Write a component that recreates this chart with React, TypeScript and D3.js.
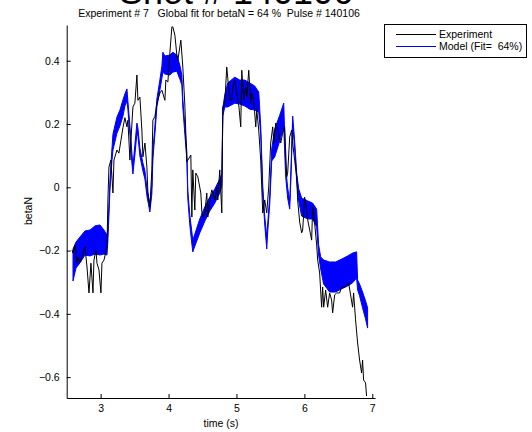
import React, { useEffect, useRef } from 'react';
import * as d3 from 'd3';

// experiment trace (time in s, betaN)
const expTime = [
  2.578, 2.593, 2.622, 2.651, 2.666, 2.696, 2.725, 2.769, 2.799, 2.828, 2.857, 2.887, 2.901, 2.931, 2.946, 2.975,
  3.004, 3.019, 3.049, 3.093, 3.107, 3.122, 3.151, 3.181, 3.196, 3.240, 3.269, 3.299, 3.328, 3.357, 3.387, 3.401,
  3.431, 3.446, 3.475, 3.504, 3.534, 3.549, 3.578, 3.607, 3.622, 3.652, 3.681, 3.696, 3.725, 3.754, 3.769, 3.799,
  3.828, 3.872, 3.902, 3.946, 3.960, 3.990, 4.019, 4.049, 4.063, 4.093, 4.122, 4.137, 4.181, 4.210, 4.240, 4.269,
  4.284, 4.328, 4.343, 4.357, 4.387, 4.401, 4.431, 4.475, 4.490, 4.504, 4.534, 4.563, 4.578, 4.607, 4.637, 4.652,
  4.681, 4.710, 4.725, 4.754, 4.784, 4.799, 4.828, 4.857, 4.872, 4.901, 4.931, 4.946, 4.975, 5.004, 5.034, 5.063,
  5.078, 5.107, 5.137, 5.151, 5.181, 5.210, 5.225, 5.254, 5.284, 5.299, 5.328, 5.357, 5.387, 5.416, 5.446, 5.475,
  5.504, 5.534, 5.549, 5.578, 5.607, 5.652, 5.681, 5.710, 5.740, 5.754, 5.784, 5.813, 5.828, 5.857, 5.887, 5.901,
  5.931, 5.960, 5.975, 6.004, 6.034, 6.049, 6.078, 6.107, 6.122, 6.137, 6.181, 6.196, 6.225, 6.254, 6.269, 6.284,
  6.313, 6.343, 6.372, 6.401, 6.416, 6.446, 6.475, 6.519, 6.549, 6.593, 6.652, 6.710, 6.725, 6.754, 6.784, 6.813,
  6.843, 6.857, 6.872, 6.901, 6.916,
];
const expBeta = [
  -0.198, -0.208, -0.182, -0.240, -0.220, -0.236, -0.223, -0.189, -0.252, -0.334, -0.240, -0.334, -0.230, -0.198, -0.240, -0.261,
  -0.334, -0.240, -0.230, -0.189, -0.040, 0.064, 0.086, -0.018, 0.086, 0.118, 0.108, 0.149, 0.188, 0.220, 0.191, 0.212,
  0.086, 0.149, 0.254, 0.266, 0.355, 0.275, 0.285, 0.181, 0.096, 0.140, 0.064, -0.018, -0.062, 0.055, 0.212, 0.224,
  0.266, 0.298, 0.307, 0.275, 0.339, 0.333, 0.424, 0.507, 0.507, 0.481, 0.418, 0.402, 0.465, 0.380, 0.260, 0.080,
  0.086, 0.102, -0.094, 0.055, -0.072, 0.045, 0.033, -0.018, -0.078, -0.094, -0.081, -0.018, -0.094, -0.040, -0.008, -0.018,
  -0.040, 0.001, -0.040, 0.055, -0.081, 0.254, 0.266, 0.380, 0.345, 0.276, 0.276, 0.317, 0.339, 0.298, 0.260, 0.191,
  0.370, 0.276, 0.317, 0.285, 0.370, 0.266, 0.298, 0.276, 0.191, 0.244, 0.181, 0.086, -0.081, -0.040, -0.081, 0.001,
  0.140, 0.191, 0.140, 0.203, 0.181, 0.140, 0.172, 0.191, 0.033, 0.045, 0.159, 0.181, 0.140, 0.086, 0.033, -0.040,
  -0.110, -0.144, -0.135, -0.031, -0.072, -0.103, -0.135, -0.167, -0.062, -0.081, -0.182, -0.230, -0.271, -0.379, -0.315, -0.379,
  -0.325, -0.379, -0.334, -0.356, -0.397, -0.340, -0.334, -0.334, -0.315, -0.315, -0.302, -0.379, -0.334, -0.419, -0.492, -0.546,
  -0.587, -0.546, -0.609, -0.618, -0.660,
];

// model trace: fast oscillation shown as its lower / upper envelope
const modelTime = [
  2.593, 2.637, 2.696, 2.769, 2.843, 2.916, 2.990, 3.049, 3.093, 3.107, 3.137, 3.166, 3.181, 3.240, 3.284, 3.328,
  3.357, 3.387, 3.401, 3.431, 3.460, 3.475, 3.504, 3.534, 3.549, 3.578, 3.622, 3.652, 3.681, 3.725, 3.754, 3.769,
  3.799, 3.828, 3.872, 3.902, 3.916, 3.946, 4.019, 4.063, 4.122, 4.166, 4.196, 4.210, 4.240, 4.269, 4.284, 4.313,
  4.343, 4.357, 4.387, 4.460, 4.534, 4.607, 4.681, 4.754, 4.784, 4.799, 4.828, 4.872, 4.975, 5.049, 5.122, 5.196,
  5.269, 5.328, 5.357, 5.387, 5.416, 5.446, 5.460, 5.490, 5.519, 5.563, 5.637, 5.696, 5.725, 5.754, 5.784, 5.799,
  5.828, 5.857, 5.887, 5.916, 5.960, 6.049, 6.122, 6.181, 6.210, 6.240, 6.284, 6.372, 6.460, 6.549, 6.637, 6.710,
  6.769, 6.784, 6.813, 6.857, 6.901, 6.931,
];
const modelLow = [
  -0.296, -0.255, -0.239, -0.214, -0.217, -0.211, -0.214, -0.211, -0.214, -0.167, -0.009, 0.083, 0.118, 0.171, 0.194, 0.225,
  0.257, 0.273, 0.247, 0.168, 0.077, 0.042, 0.102, 0.171, 0.162, 0.099, 0.052, 0.026, -0.027, -0.078, -0.021, 0.089,
  0.168, 0.254, 0.307, 0.345, 0.364, 0.358, 0.355, 0.364, 0.367, 0.342, 0.323, 0.254, 0.168, 0.089, -0.037, -0.119,
  -0.179, -0.204, -0.186, -0.144, -0.107, -0.075, -0.050, -0.018, 0.004, 0.225, 0.254, 0.254, 0.266, 0.263, 0.257, 0.247,
  0.244, 0.238, 0.168, -0.021, -0.116, -0.195, -0.141, -0.053, 0.083, 0.096, 0.146, 0.191, 0.033, -0.034, -0.069, 0.010,
  0.200, 0.121, 0.020, -0.043, -0.091, -0.100, -0.100, -0.126, -0.214, -0.258, -0.306, -0.331, -0.331, -0.321, -0.312, -0.302,
  -0.287, -0.324, -0.343, -0.381, -0.416, -0.445,
];
const modelHigh = [
  -0.195, -0.173, -0.157, -0.138, -0.135, -0.122, -0.119, -0.135, -0.151, -0.135, 0.023, 0.121, 0.168, 0.222, 0.244, 0.276,
  0.295, 0.311, 0.273, 0.194, 0.108, 0.067, 0.134, 0.203, 0.187, 0.124, 0.077, 0.052, -0.002, -0.053, 0.004, 0.115,
  0.194, 0.279, 0.339, 0.383, 0.427, 0.415, 0.418, 0.427, 0.418, 0.386, 0.355, 0.279, 0.194, 0.115, -0.012, -0.088,
  -0.141, -0.167, -0.148, -0.100, -0.062, -0.031, -0.005, 0.026, 0.042, 0.251, 0.292, 0.330, 0.348, 0.339, 0.339, 0.330,
  0.320, 0.301, 0.194, 0.004, -0.091, -0.157, -0.116, -0.027, 0.121, 0.184, 0.228, 0.266, 0.064, -0.002, -0.043, 0.036,
  0.225, 0.146, 0.045, -0.005, -0.034, -0.043, -0.050, -0.069, -0.182, -0.220, -0.230, -0.236, -0.236, -0.227, -0.217, -0.208,
  -0.204, -0.293, -0.306, -0.331, -0.359, -0.381,
];

const xTicks = [3, 4, 5, 6, 7];
const yTicks = [-0.6, -0.4, -0.2, 0, 0.2, 0.4];

const W = 532;
const H = 432;
const FONT = '"Liberation Sans", Arial, Helvetica, sans-serif';

export default function App() {
  const ref = useRef<SVGSVGElement>(null);

  useEffect(() => {
    const svg = d3.select(ref.current);
    svg.selectAll('*').remove();

    const x = d3.scaleLinear().domain([2.5, 7.04]).range([66.7, 375]);
    const y = d3.scaleLinear().domain([-0.666, 0.513]).range([398, 25]);

    // model band
    const band = modelTime.map((t, i) => ({ t, lo: modelLow[i], hi: modelHigh[i] }));
    const area = d3.area<any>()
      .x(d => x(d.t))
      .y0(d => y(d.lo))
      .y1(d => y(d.hi));
    svg.append('path')
      .datum(band)
      .attr('d', area)
      .attr('fill', '#0000ff')
      .attr('stroke', '#0000ff')
      .attr('stroke-width', 1);

    // experiment line
    const exp = expTime.map((t, i) => ({ t, v: expBeta[i] }));
    const line = d3.line<any>().x(d => x(d.t)).y(d => y(d.v));
    svg.append('path')
      .datum(exp)
      .attr('d', line)
      .attr('fill', 'none')
      .attr('stroke', '#000')
      .attr('stroke-width', 1);

    // axes, ticks pointing inward like matlab
    const fmt = (d: any) => (d === 0 ? '0' : d3.format('.1f')(d));
    const gx = svg.append('g')
      .attr('transform', 'translate(0,398)')
      .call(d3.axisBottom(x).tickValues(xTicks).tickSizeInner(-4).tickSizeOuter(0).tickPadding(7).tickFormat(d3.format('d') as any));
    const gy = svg.append('g')
      .attr('transform', 'translate(66.7,0)')
      .call(d3.axisLeft(y).tickValues(yTicks).tickSizeInner(-4).tickSizeOuter(0).tickPadding(7).tickFormat(fmt as any));
    [gx, gy].forEach(g => {
      g.selectAll('text').style('font-family', FONT).style('font-size', '10.5px').attr('fill', '#000');
      g.selectAll('line,path').attr('stroke', '#000');
    });

    // labels
    svg.append('text')
      .attr('x', 221).attr('y', 427)
      .attr('text-anchor', 'middle')
      .style('font-family', FONT).style('font-size', '10.5px')
      .text('time (s)');
    svg.append('text')
      .attr('transform', 'translate(32,211) rotate(-90)')
      .attr('text-anchor', 'middle')
      .style('font-family', FONT).style('font-size', '10.5px')
      .text('betaN');

    // titles (the big one is clipped by the top edge, as in the original figure)
    svg.append('text')
      .attr('x', 236).attr('y', 4)
      .attr('text-anchor', 'middle')
      .style('font-family', FONT).style('font-size', '36px')
      .text('Shot # 140106');
    svg.append('text')
      .attr('x', 219).attr('y', 17)
      .attr('text-anchor', 'middle')
      .style('font-family', FONT).style('font-size', '10.5px')
      .style('white-space', 'pre')
      .text('Experiment # 7   Global fit for betaN = 64 %  Pulse # 140106');

    // legend
    const lg = svg.append('g');
    lg.append('rect')
      .attr('x', 384.5).attr('y', 24.5).attr('width', 142).attr('height', 33)
      .attr('fill', '#fff').attr('stroke', '#000');
    const items = [
      { label: 'Experiment', color: '#000' },
      { label: 'Model (Fit=  64%)', color: '#0000ff' },
    ];
    items.forEach((it, i) => {
      const yy = 34.5 + i * 12;
      lg.append('line')
        .attr('x1', 396).attr('x2', 436).attr('y1', yy).attr('y2', yy)
        .attr('stroke', it.color);
      lg.append('text')
        .attr('x', 439).attr('y', yy + 3.8)
        .style('font-family', FONT).style('font-size', '10.5px')
        .style('white-space', 'pre')
        .text(it.label);
    });
  }, []);

  return (
    <svg
      ref={ref}
      width={W}
      height={H}
      style={{ position: 'absolute', left: 0, top: 0, background: '#fff' }}
    />
  );
}
